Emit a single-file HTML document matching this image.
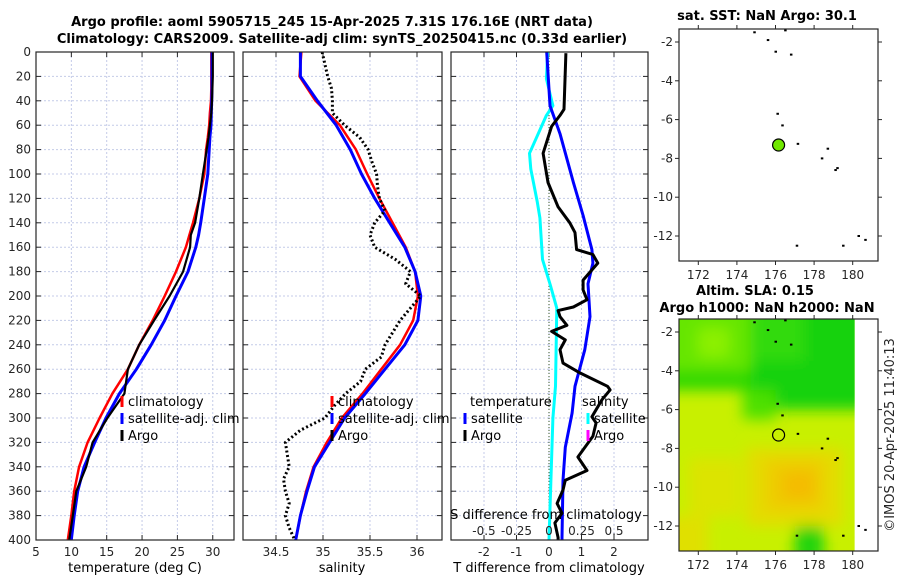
<!DOCTYPE html>
<html><head><meta charset="utf-8">
<style>
html,body{margin:0;padding:0;background:#fff;}
svg{display:block;font-family:"DejaVu Sans","Liberation Sans",sans-serif;}
.tk{font-size:12px;fill:#262626;}
.lg{font-size:13px;fill:#000;}
.tt{font-size:13px;font-weight:bold;fill:#000;}
</style></head>
<body>
<svg id="fig" width="900" height="580" viewBox="0 0 900 580">
<text class="tt" x="332" y="26" text-anchor="middle">Argo profile: aoml 5905715_245 15-Apr-2025 7.31S 176.16E (NRT data)</text>
<text class="tt" x="342" y="43" text-anchor="middle">Climatology: CARS2009. Satellite-adj clim: synTS_20250415.nc (0.33d earlier)</text>
<text class="tt" x="767" y="20" text-anchor="middle">sat. SST: NaN Argo: 30.1</text>
<text class="tt" x="755" y="295" text-anchor="middle">Altim. SLA: 0.15</text>
<text class="tt" x="767" y="312" text-anchor="middle">Argo h1000: NaN h2000: NaN</text>
<text class="tk" transform="translate(894,435) rotate(-90)" text-anchor="middle" style="font-size:13px">©IMOS 20-Apr-2025 11:40:13</text>
</svg>
<script>
// ---- data ----
const depthTicks=[0,20,40,60,80,100,120,140,160,180,200,220,240,260,280,300,320,340,360,380,400];
const tDepth=[0,10,20,30,40,50,60,70,80,100,120,140,150,160,180,200,220,240,260,280,300,320,340,360,380,400];
const tempArgo=[30.0,30.0,30.0,29.95,29.9,29.8,29.6,29.4,29.15,28.6,28.1,27.5,26.9,26.8,25.8,23.9,21.7,19.6,18.0,17.5,15.1,13.0,12.1,10.7,10.2,9.7];
const tempClim=[29.8,29.8,29.8,29.8,29.75,29.6,29.5,29.3,29.06,28.8,28.1,27.2,26.7,26.2,24.8,23.2,21.5,19.6,18.0,15.8,14.0,12.3,11.1,10.4,10.0,9.5];
const tempSat=[29.9,29.9,29.9,29.9,29.85,29.8,29.75,29.6,29.5,29.3,28.8,28.3,28.0,27.6,26.5,24.8,23.2,21.3,19.2,16.8,14.9,13.3,11.8,10.9,10.4,10.0];
const tempTicks=[5,10,15,20,25,30];
const sDepth=[0,20,40,60,80,100,120,140,160,180,200,220,240,260,280,300,320,340,360,380,400];
const salSat=[34.76,34.76,34.94,35.14,35.29,35.41,35.55,35.71,35.87,35.98,36.04,36.01,35.87,35.66,35.45,35.23,35.07,34.91,34.83,34.76,34.71];
const salClim=[34.77,34.75,34.92,35.18,35.35,35.47,35.60,35.74,35.88,35.98,36.01,35.96,35.82,35.62,35.42,35.20,35.04,34.90,34.82,34.76,34.71];
const aDepth=[0,10,20,30,40,50,60,70,80,90,100,110,120,130,140,150,160,170,180,190,200,210,220,230,240,250,260,270,280,290,300,310,320,330,340,350,360,370,380,390,400];
const salArgo=[34.99,35.02,35.05,35.09,35.10,35.10,35.23,35.39,35.48,35.52,35.57,35.58,35.60,35.66,35.55,35.50,35.55,35.77,35.93,35.88,36.04,35.93,35.82,35.74,35.66,35.62,35.45,35.40,35.24,35.12,35.02,34.76,34.60,34.62,34.64,34.58,34.60,34.64,34.60,34.64,34.70];
const salTicks=[34.5,35,35.5,36];
const dDepth=[1,47,52,61,83,107,127,140,148,162,166,173,187,195,203,209,212,217,224,229,236,244,255,263,274,277,285,299,304,315,332,343,351,359,370,378,386,398,400];
const dTArgo=[0.52,0.46,0.34,0.08,-0.18,-0.03,0.28,0.64,0.8,0.85,1.35,1.5,1.05,1.05,1.17,0.75,0.28,0.34,0.55,0.08,0.5,0.34,0.43,0.95,1.8,1.88,1.63,1.32,1.45,1.35,0.89,1.17,0.5,0.43,0.25,0.4,0.18,0.28,0.28];
const bDepth=[0,44,67,107,134,162,173,190,217,244,274,296,324,351,398,400];
const dTSat=[-0.07,0.03,0.34,0.75,1.05,1.32,1.35,1.2,1.26,1.1,0.8,0.71,0.5,0.43,0.4,0.4];
const cDepth=[0,22,44,52,83,96,123,136,170,191,210,274,300,400];
const dSSat=[-0.01,-0.02,0.03,-0.02,-0.15,-0.14,-0.09,-0.07,-0.05,0.01,0.06,0.05,0.03,0.0];
const dTTicks=[-2,-1,0,1,2];
const dSTicks=[-0.5,-0.25,0,0.25,0.5];
const dSTickLabels=["-0.5","-0.25","0","0.25","0.5"];
const lonTicks=[172,174,176,178,180];
const latTicks=[-2,-4,-6,-8,-10,-12];
const argoLon=[176.16];
const argoLat=[-7.31];
const islandLon=[174.9,175.6,176.0,176.1,176.35,176.5,176.8,177.15,178.4,178.7,179.1,179.2,180.3,180.65,179.5,177.1];
const islandLat=[-1.5,-1.9,-2.5,-5.7,-6.3,-1.4,-2.65,-7.25,-8.0,-7.5,-8.6,-8.5,-12.0,-12.2,-12.5,-12.5];

// ---- helpers ----
const NS="http://www.w3.org/2000/svg";
const svg=document.getElementById('fig');
function mk(tag,attrs,parent){const e=document.createElementNS(NS,tag);for(const k in attrs)e.setAttribute(k,attrs[k]);(parent||svg).appendChild(e);return e;}
const Y0=52,Y1=540;
const yD=d=>Y0+d*(Y1-Y0)/400;
const xT=t=>36+(t-5)*7.07;
const xS=s=>323+(s-35)*94;
const xDT=t=>549+t*32.5;
const xDS=s=>549+s*130;

function panel(x0,x1,name,xticks,xf,labels,showY){
  const g=mk('g',{});
  
  
  xticks.forEach((t,i)=>{const x=xf(t);
    mk('line',{x1:x,x2:x,y1:Y0,y2:Y1,stroke:'#c4cbe8','stroke-width':1,'stroke-dasharray':'2,2'},g);
    mk('line',{x1:x,x2:x,y1:Y1,y2:Y1-5,stroke:'#262626'},g);
    mk('line',{x1:x,x2:x,y1:Y0,y2:Y0+5,stroke:'#262626'},g);
    if(labels){const tx=mk('text',{x:x,y:556,'text-anchor':'middle',class:'tk'},g);tx.textContent=labels[i];
      
      }
  });
  depthTicks.forEach(d=>{const y=yD(d);
    mk('line',{x1:x0,x2:x1,y1:y,y2:y,stroke:'#c4cbe8','stroke-width':1,'stroke-dasharray':'2,2'},g);
    mk('line',{x1:x0,x2:x0+5,y1:y,y2:y,stroke:'#262626'},g);
    mk('line',{x1:x1,x2:x1-5,y1:y,y2:y,stroke:'#262626'},g);
    if(showY){const tx=mk('text',{x:x0-5,y:y+4,'text-anchor':'end',class:'tk'},g);tx.textContent=d;
      
      }
  });
  return g;
}
function line(g,xs,ds,xf,color,w,name,dash){
  const pts=xs.map((v,i)=>xf(v).toFixed(1)+','+yD(ds[i]).toFixed(1)).join(' ');
  const p=mk('polyline',{points:pts,fill:'none',stroke:color,'stroke-width':w,'stroke-linejoin':'round'},g);
  if(dash)p.setAttribute('stroke-dasharray',dash);
  
  
}
function frame(g,x0,x1){mk('rect',{x:x0,y:Y0,width:x1-x0,height:Y1-Y0,fill:'none',stroke:'#262626','stroke-width':1.2},g);}
function legend(g,x,y,color,text,name){
  mk('rect',{x:x-1.5,y:y-10,width:3,height:11,fill:color},g);
  const t=mk('text',{x:x+6,y:y,class:'lg'},g);t.textContent=text;
  
  
}
function label(g,x,y,text,name,anchor){
  const t=mk('text',{x:x,y:y,class:'lg','text-anchor':anchor||'middle'},g);t.textContent=text;
  
  
}

// panel 1 temperature
const p1=panel(36,234,'temperature-panel',tempTicks,xT,tempTicks.map(String),true);
line(p1,tempClim,tDepth,xT,'#ff0000',2.5,'temp-climatology-line');
line(p1,tempSat,tDepth,xT,'#0000ff',3,'temp-satellite-line');
line(p1,tempArgo,tDepth,xT,'#000000',2.2,'temp-argo-line');
frame(p1,36,234);
legend(p1,122,406,'#ff0000','climatology','legend-climatology');
legend(p1,122,423,'#0000ff','satellite-adj. clim','legend-satellite-adj');
legend(p1,122,440,'#000000','Argo','legend-argo');
label(p1,135,572,'temperature (deg C)','x-axis-title-temperature');

// panel 2 salinity
const p2=panel(243,442,'salinity-panel',salTicks,xS,["34.5","35","35.5","36"],false);
line(p2,salClim,sDepth,xS,'#ff0000',2.5,'sal-climatology-line');
line(p2,salSat,sDepth,xS,'#0000ff',3,'sal-satellite-line');
line(p2,salArgo,aDepth,xS,'#000000',3,'sal-argo-dotted-line','2,2.5');
frame(p2,243,442);
legend(p2,332,406,'#ff0000','climatology','legend-climatology-sal');
legend(p2,332,423,'#0000ff','satellite-adj. clim','legend-satellite-adj-sal');
legend(p2,332,440,'#000000','Argo','legend-argo-sal');
label(p2,342,572,'salinity','x-axis-title-salinity');

// panel 3 differences
const p3=panel(451,648,'difference-panel',dTTicks,xDT,["-2","-1","0","1","2"],false);
mk('line',{x1:549,x2:549,y1:Y0,y2:Y1,stroke:'#3a5a2a','stroke-width':1,'stroke-dasharray':'1,2'},p3);
line(p3,dSSat,cDepth,xDS,'#00ffff',3,'sal-diff-satellite-line');
line(p3,dTSat,bDepth,xDT,'#0000ff',3,'temp-diff-satellite-line');
line(p3,dTArgo,dDepth,xDT,'#000000',3,'temp-diff-argo-line');
frame(p3,451,648);
label(p3,470,406,'temperature','legend-temperature-header','start');
legend(p3,465,423,'#0000ff','satellite','legend-temp-satellite');
legend(p3,465,440,'#000000','Argo','legend-temp-argo');
label(p3,582,406,'salinity','legend-salinity-header','start');
legend(p3,588,423,'#00ffff','satellite','legend-sal-satellite');
legend(p3,588,440,'#ff00ff','Argo','legend-sal-argo');
label(p3,546,519,'S difference from climatology','s-axis-title');
dSTicks.forEach((s,i)=>{const t=mk('text',{x:xDS(s),y:535,'text-anchor':'middle',class:'tk'},p3);t.textContent=dSTickLabels[i];
  
  });
label(p3,549,572,'T difference from climatology','t-axis-title');

// maps
const LX0=679,LX1=878;
const xL=l=>LX0+(l-171.0)*19.3;
function mapPanel(Ytop,name,colored){
  const yL=l=>Ytop+(-1.33-l)*19.4;
  const g=mk('g',{});
  
  
  const H=232;
  if(colored){
    const cid='clip'+Ytop;
    const cp=mk('clipPath',{id:cid},g);mk('rect',{x:LX0,y:Ytop,width:xL(180.1)-LX0,height:H},cp);
    const fg=mk('g',{'clip-path':'url(#'+cid+')'},g);
    const df=mk('defs',{},g);const f=mk('filter',{id:'bl'+Ytop,x:'-20%',y:'-20%',width:'140%',height:'140%'},df);mk('feGaussianBlur',{stdDeviation:7},f);
    mk('rect',{x:LX0-20,y:Ytop-20,width:240,height:H+40,fill:'#c8f000'},fg);
    const bg=mk('g',{filter:'url(#bl'+Ytop+')'},fg);
    const blobs=[[170,0,174.7,-4.4,'#66e600'],[172,-1.8,173.6,-3.3,'#8cf000'],[170,-4.0,174.7,-5.0,'#2ed800'],[174.7,0,182,-6.0,'#18d20c'],[174.7,0,177.5,-3.5,'#30da08'],[174.3,-5.0,176,-6.5,'#4ee000'],[174.5,-8.0,179.5,-12.0,'#e4dc00'],[175.5,-8.6,178.5,-11.2,'#eecc00'],[176.4,-9.2,178.0,-10.6,'#f4bc00'],[171.5,-8.5,174.2,-11.5,'#dce400'],[177,-12.0,178.5,-14,'#20d410'],[170,-11.5,172.5,-14,'#e0e000']];
    blobs.forEach(b=>mk('rect',{x:xL(b[0]),y:yL(b[1]),width:xL(b[2])-xL(b[0]),height:yL(b[3])-yL(b[1]),fill:b[4]},bg));
  }
  lonTicks.forEach(l=>{const x=xL(l);
    mk('line',{x1:x,x2:x,y1:Ytop+H,y2:Ytop+H+4,stroke:'#262626'},g);
    mk('line',{x1:x,x2:x,y1:Ytop,y2:Ytop-4,stroke:'#262626'},g);
    const t=mk('text',{x:x,y:Ytop+H+18,'text-anchor':'middle',class:'tk'},g);t.textContent=l;
    
    });
  latTicks.forEach(l=>{const y=yL(l);
    mk('line',{x1:LX0,x2:LX0-4,y1:y,y2:y,stroke:'#262626'},g);
    mk('line',{x1:LX1,x2:LX1+4,y1:y,y2:y,stroke:'#262626'},g);
    const t=mk('text',{x:LX0-6,y:y+4,'text-anchor':'end',class:'tk'},g);t.textContent=l;
    
    });
  islandLon.forEach((l,i)=>{const c=mk('rect',{x:xL(l)-1,y:yL(islandLat[i])-1,width:2.5,height:2,fill:'#000'},g);
    
    });
  argoLon.forEach((l,i)=>{const c=mk('circle',{cx:xL(l),cy:yL(argoLat[i]),r:6,fill:colored?'none':'#70e800',stroke:'#000','stroke-width':1.2},g);
    
    });
  mk('rect',{x:LX0,y:Ytop,width:LX1-LX0,height:H,fill:'none',stroke:'#262626','stroke-width':1.2},g);
}
mapPanel(29,'sst-map',false);
mapPanel(319,'sla-map',true);
</script>
</body></html>
